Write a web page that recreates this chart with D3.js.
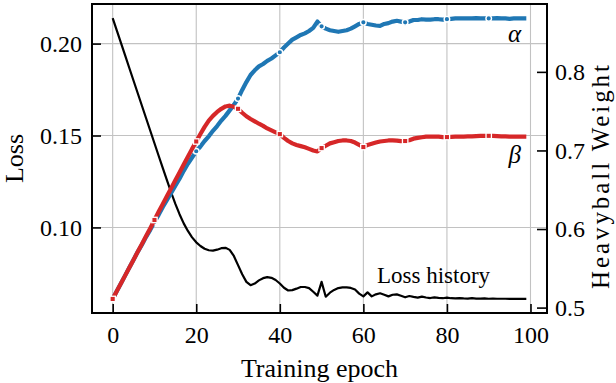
<!DOCTYPE html>
<html>
<head>
<meta charset="utf-8">
<script src="https://cdn.jsdelivr.net/npm/d3@7"></script>
<style>
  body { margin: 0; background: #fff; }
  svg { display: block; }
  text { font-family: "Liberation Serif", "DejaVu Serif", serif; fill: #000; }
</style>
</head>
<body>
<div id="chart"></div>
<script>
// loss per epoch (left axis)
const lossHistory = [
  0.2139, 0.2071, 0.2003, 0.1935, 0.1866, 0.1798, 0.1730, 0.1662, 0.1594, 0.1526,
  0.1458, 0.1390, 0.1323, 0.1256, 0.1190, 0.1128, 0.1072, 0.1022, 0.0981, 0.0946,
  0.0919, 0.0899, 0.0884, 0.0876, 0.0874, 0.0879, 0.0887, 0.0889, 0.0878, 0.0845,
  0.0795, 0.0745, 0.0704, 0.0686, 0.0695, 0.0712, 0.0724, 0.0730, 0.0726, 0.0714,
  0.0695, 0.0672, 0.0657, 0.0659, 0.0667, 0.0676, 0.0676, 0.0670, 0.0650, 0.0629,
  0.0704, 0.0623, 0.0645, 0.0660, 0.0670, 0.0674, 0.0674, 0.0671, 0.0662, 0.0640,
  0.0625, 0.0647, 0.0625, 0.0636, 0.0642, 0.0634, 0.0625, 0.0634, 0.0636, 0.0628,
  0.0620, 0.0627, 0.0622, 0.0618, 0.0624, 0.0619, 0.0616, 0.0620, 0.0617, 0.0615,
  0.0618, 0.0615, 0.0614, 0.0616, 0.0614, 0.0613, 0.0615, 0.0613, 0.0613, 0.0614,
  0.0612, 0.0613, 0.0612, 0.0612, 0.0612, 0.0611, 0.0612, 0.0611, 0.0611, 0.0611
];

// heavyball weights (right axis)
const alphaWeight = [
  0.511, 0.521, 0.531, 0.541, 0.551, 0.561, 0.571, 0.580, 0.590, 0.599,
  0.609, 0.618, 0.628, 0.637, 0.646, 0.655, 0.664, 0.674, 0.683, 0.691,
  0.699, 0.705, 0.712, 0.718, 0.725, 0.731, 0.738, 0.744, 0.751, 0.758,
  0.766, 0.777, 0.787, 0.796, 0.802, 0.807, 0.810, 0.814, 0.817, 0.821,
  0.825, 0.831, 0.836, 0.841, 0.844, 0.847, 0.849, 0.852, 0.856, 0.864,
  0.858, 0.855, 0.853, 0.852, 0.851, 0.852, 0.853, 0.855, 0.858, 0.861,
  0.863, 0.861, 0.860, 0.859, 0.8585, 0.861, 0.862, 0.864, 0.865, 0.864,
  0.863, 0.864, 0.866, 0.866, 0.867, 0.8665, 0.8665, 0.867, 0.867, 0.8665,
  0.867, 0.8675, 0.868, 0.868, 0.868, 0.868, 0.868, 0.8685, 0.868, 0.868,
  0.868, 0.868, 0.8685, 0.868, 0.868, 0.8675, 0.868, 0.868, 0.868, 0.868
];

const betaWeight = [
  0.511, 0.521, 0.531, 0.541, 0.551, 0.561, 0.571, 0.581, 0.591, 0.601,
  0.6115, 0.622, 0.632, 0.642, 0.652, 0.662, 0.672, 0.682, 0.692, 0.702,
  0.7114, 0.721, 0.730, 0.738, 0.744, 0.749, 0.753, 0.756, 0.757, 0.7555,
  0.753, 0.748, 0.7435, 0.740, 0.737, 0.734, 0.7313, 0.728, 0.7255, 0.723,
  0.7208, 0.716, 0.712, 0.709, 0.707, 0.7055, 0.704, 0.702, 0.700, 0.6987,
  0.703, 0.706, 0.709, 0.7105, 0.712, 0.7127, 0.7127, 0.712, 0.710, 0.707,
  0.7043, 0.707, 0.7085, 0.710, 0.7114, 0.712, 0.7127, 0.7127, 0.7125, 0.7118,
  0.712, 0.713, 0.715, 0.716, 0.7168, 0.7175, 0.7177, 0.7177, 0.7175, 0.717,
  0.717, 0.7172, 0.7175, 0.7177, 0.7177, 0.7178, 0.718, 0.7183, 0.7185, 0.7186,
  0.7186, 0.7185, 0.7182, 0.718, 0.7178, 0.7177, 0.7177, 0.7177, 0.7177, 0.7177
];

const xTicks = [0, 20, 40, 60, 80, 100];
const lossTicks = [0.10, 0.15, 0.20];
const weightTicks = [0.5, 0.6, 0.7, 0.8];

class HeavyballChart {
  constructor(el) {
    this.el = el;
    this.init();
  }

  init() {
    this.setup();
    this.scaffold();
    this.render();
  }

  setup() {
    this.width = 616;
    this.height = 383;
    this.left = 92;
    this.right = 547;
    this.top = 4;
    this.bottom = 313;

    const n = lossHistory.length;
    this.epochs = d3.range(n);
    // matplotlib style 5% margins around the data
    const pad = (lo, hi) => [lo - (hi - lo) * 0.05, hi + (hi - lo) * 0.05];

    this.x = d3
      .scaleLinear()
      .domain(pad(0, n - 1))
      .range([this.left, this.right]);

    this.yLoss = d3
      .scaleLinear()
      .domain(pad(d3.min(lossHistory), d3.max(lossHistory)))
      .range([this.bottom, this.top]);

    const weights = alphaWeight.concat(betaWeight);
    this.yWeight = d3
      .scaleLinear()
      .domain(pad(d3.min(weights), d3.max(weights)))
      .range([this.bottom, this.top]);
  }

  scaffold() {
    this.svg = d3
      .select(this.el)
      .append("svg")
      .attr("width", this.width)
      .attr("height", this.height);
    this.gGrid = this.svg.append("g").attr("class", "grid-g");
    this.gLines = this.svg.append("g").attr("class", "lines-g");
    this.gAxes = this.svg.append("g").attr("class", "axes-g");
    this.gText = this.svg.append("g").attr("class", "text-g");
  }

  render() {
    this.renderGrid();
    this.renderLines();
    this.renderAxes();
    this.renderText();
  }

  renderGrid() {
    this.gGrid
      .selectAll(".grid-x")
      .data(xTicks)
      .join("line")
      .attr("class", "grid-x")
      .attr("x1", (d) => this.x(d))
      .attr("x2", (d) => this.x(d))
      .attr("y1", this.top)
      .attr("y2", this.bottom);

    this.gGrid
      .selectAll(".grid-y")
      .data(lossTicks)
      .join("line")
      .attr("class", "grid-y")
      .attr("x1", this.left)
      .attr("x2", this.right)
      .attr("y1", (d) => this.yLoss(d))
      .attr("y2", (d) => this.yLoss(d));

    this.gGrid.selectAll("line").attr("stroke", "#c2c2c2").attr("stroke-width", 1.1);
  }

  renderLines() {
    const lossLine = d3
      .line()
      .x((d, i) => this.x(this.epochs[i]))
      .y((d) => this.yLoss(d));

    const weightLine = d3
      .line()
      .x((d, i) => this.x(this.epochs[i]))
      .y((d) => this.yWeight(d));

    this.gLines
      .append("path")
      .attr("d", lossLine(lossHistory))
      .attr("fill", "none")
      .attr("stroke", "#000")
      .attr("stroke-width", 2.2)
      .attr("stroke-linejoin", "round");

    const every = (arr) =>
      arr.map((v, i) => ({ i, v })).filter((d) => d.i % 10 === 0);

    // alpha: line then circle markers
    this.gLines
      .append("path")
      .attr("d", weightLine(alphaWeight))
      .attr("fill", "none")
      .attr("stroke", "#1f77b4")
      .attr("stroke-width", 4.2)
      .attr("stroke-linejoin", "round");

    this.gLines
      .append("g")
      .selectAll("circle")
      .data(every(alphaWeight))
      .join("circle")
      .attr("cx", (d) => this.x(this.epochs[d.i]))
      .attr("cy", (d) => this.yWeight(d.v))
      .attr("r", 2.8)
      .attr("fill", "#1f77b4")
      .attr("stroke", "#fff")
      .attr("stroke-width", 1.4);

    // beta: line then square markers
    this.gLines
      .append("path")
      .attr("d", weightLine(betaWeight))
      .attr("fill", "none")
      .attr("stroke", "#d62728")
      .attr("stroke-width", 4.2)
      .attr("stroke-linejoin", "round");

    const s = 5.4;
    this.gLines
      .append("g")
      .selectAll("rect")
      .data(every(betaWeight))
      .join("rect")
      .attr("x", (d) => this.x(this.epochs[d.i]) - s / 2)
      .attr("y", (d) => this.yWeight(d.v) - s / 2)
      .attr("width", s)
      .attr("height", s)
      .attr("fill", "#d62728")
      .attr("stroke", "#fff")
      .attr("stroke-width", 1.3);
  }

  renderAxes() {
    const gx = this.gAxes
      .append("g")
      .attr("transform", `translate(0,${this.bottom})`)
      .call(
        d3.axisBottom(this.x).tickValues(xTicks).tickSize(-9).tickSizeOuter(0).tickPadding(13)
      );

    const gl = this.gAxes
      .append("g")
      .attr("transform", `translate(${this.left},0)`)
      .call(
        d3
          .axisLeft(this.yLoss)
          .tickValues(lossTicks)
          .tickFormat(d3.format(".2f"))
          .tickSize(-9)
          .tickSizeOuter(0)
          .tickPadding(10)
      );

    const gr = this.gAxes
      .append("g")
      .attr("transform", `translate(${this.right},0)`)
      .call(
        d3
          .axisRight(this.yWeight)
          .tickValues(weightTicks)
          .tickFormat(d3.format(".1f"))
          .tickSize(-10)
          .tickSizeOuter(0)
          .tickPadding(8)
      );

    [gx, gl, gr].forEach((g) => {
      g.select(".domain").remove();
      g.attr("font-family", null).attr("font-size", null);
      g.selectAll(".tick line").attr("stroke", "#000").attr("stroke-width", 1.6);
      g.selectAll(".tick text").attr("font-size", 24);
    });

    this.gAxes
      .append("rect")
      .attr("x", this.left)
      .attr("y", this.top)
      .attr("width", this.right - this.left)
      .attr("height", this.bottom - this.top)
      .attr("fill", "none")
      .attr("stroke", "#000")
      .attr("stroke-width", 2);
  }

  renderText() {
    this.gText
      .append("text")
      .attr("x", (this.left + this.right) / 2)
      .attr("y", 377)
      .attr("text-anchor", "middle")
      .attr("font-size", 26)
      .text("Training epoch");

    this.gText
      .append("text")
      .attr("transform", `translate(23,${(this.top + this.bottom) / 2}) rotate(-90)`)
      .attr("text-anchor", "middle")
      .attr("font-size", 26)
      .text("Loss");

    this.gText
      .append("text")
      .attr("transform", "translate(609,177) rotate(-90)")
      .attr("text-anchor", "middle")
      .attr("font-size", 25)
      .attr("textLength", 224)
      .attr("lengthAdjust", "spacing")
      .text("Heavyball Weight");

    this.gText
      .append("text")
      .attr("x", 521)
      .attr("y", 42)
      .attr("text-anchor", "end")
      .attr("font-style", "italic")
      .attr("font-size", 25)
      .text("α");

    this.gText
      .append("text")
      .attr("x", 521)
      .attr("y", 163)
      .attr("text-anchor", "end")
      .attr("font-style", "italic")
      .attr("font-size", 25)
      .text("β");

    this.gText
      .append("text")
      .attr("x", 377)
      .attr("y", 283)
      .attr("font-size", 23)
      .text("Loss history");
  }
}

new HeavyballChart(document.getElementById("chart"));
</script>
</body>
</html>
